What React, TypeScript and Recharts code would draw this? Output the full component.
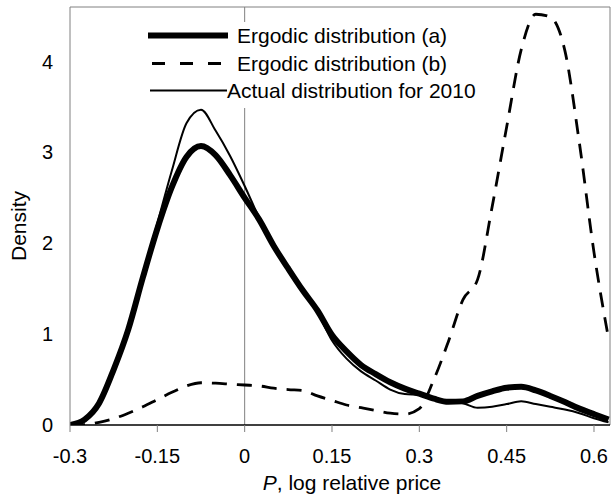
import React from 'react';
import { LineChart, Line, XAxis, YAxis, ReferenceLine, Label } from 'recharts';

// log relative price grid
const priceGrid = [
  -0.3, -0.275, -0.25, -0.225, -0.2, -0.175, -0.15, -0.125, -0.1, -0.075, -0.05, -0.025,
  0, 0.025, 0.05, 0.075, 0.1, 0.125, 0.15, 0.175, 0.2, 0.225, 0.25, 0.275, 0.3, 0.325,
  0.35, 0.375, 0.4, 0.425, 0.45, 0.475, 0.5, 0.525, 0.55, 0.575, 0.6, 0.625,
];

const ergodicA = [
  0, 0.06, 0.24, 0.61, 1.05, 1.62, 2.16, 2.62, 2.95, 3.07, 2.97, 2.75, 2.5, 2.26, 1.97,
  1.72, 1.48, 1.26, 0.99, 0.81, 0.66, 0.56, 0.47, 0.4, 0.345, 0.29, 0.255, 0.26, 0.32,
  0.37, 0.41, 0.42, 0.38, 0.32, 0.253, 0.18, 0.12, 0.06,
];

const ergodicB = [
  0, 0.005, 0.03, 0.07, 0.13, 0.2, 0.28, 0.36, 0.43, 0.465, 0.46, 0.45, 0.44, 0.43, 0.405,
  0.39, 0.38, 0.32, 0.27, 0.22, 0.19, 0.16, 0.13, 0.12, 0.18, 0.5, 0.92, 1.38, 1.6, 2.4,
  3.28, 4.13, 4.52, 4.49, 4.12, 3.1, 1.9, 0.95,
];

const actual2010 = [
  0, 0.06, 0.24, 0.61, 1.05, 1.64, 2.22, 2.8, 3.32, 3.47, 3.24, 2.96, 2.63, 2.28, 1.98,
  1.71, 1.47, 1.24, 0.93, 0.73, 0.59, 0.49, 0.39, 0.34, 0.33, 0.29, 0.26, 0.24, 0.19,
  0.2, 0.23, 0.26, 0.23, 0.2, 0.17, 0.13, 0.075, 0.03,
];

const xTicks = [-0.3, -0.15, 0, 0.15, 0.3, 0.45, 0.6];
const yTicks = [0, 1, 2, 3, 4];

const seriesNames = ['Ergodic distribution (a)', 'Ergodic distribution (b)', 'Actual distribution for 2010'];

const data = priceGrid.map((p, i) => ({
  p,
  a: ergodicA[i],
  b: ergodicB[i],
  actual: actual2010[i],
}));

const FONT = '"Liberation Sans", Arial, sans-serif';
const FRAME = '#808080';

// legend swatches, same order as seriesNames
const swatches = [
  { w: 6, dash: undefined, x1: 3, x2: 83, textX: 92 },
  { w: 2.8, dash: '13 15', x1: 7, x2: 77, textX: 92 },
  { w: 2, dash: undefined, x1: 5, x2: 82, textX: 82 },
];

function ChartLegend() {
  return (
    <div
      style={{
        position: 'absolute',
        left: 145,
        top: 22,
        width: 345,
        paddingBottom: 3,
        background: '#fff',
        fontFamily: FONT,
        fontSize: 21,
        color: '#000',
      }}
    >
      {seriesNames.map((name, i) => {
        const s = swatches[i];
        return (
          <div key={name} style={{ position: 'relative', height: 27.5, whiteSpace: 'nowrap' }}>
            <svg width={90} height={27.5} style={{ position: 'absolute', left: 0, top: 0 }}>
              <line x1={s.x1} x2={s.x2} y1={13.5} y2={13.5} stroke="#000" strokeWidth={s.w} strokeDasharray={s.dash} />
            </svg>
            <span style={{ position: 'absolute', left: s.textX, top: 0, lineHeight: '27.5px' }}>{name}</span>
          </div>
        );
      })}
    </div>
  );
}

export default function App() {
  return (
    <div style={{ position: 'absolute', left: 0, top: 0, width: 611, height: 496, background: '#fff' }}>
      <LineChart width={611} height={496} data={data} margin={{ top: 7, right: 1, bottom: 0, left: 0 }}>
        <XAxis
          dataKey="p"
          type="number"
          domain={[-0.3, 0.6275]}
          ticks={xTicks}
          allowDataOverflow
          height={71}
          axisLine={{ stroke: '#000', strokeWidth: 1.5 }}
          tickLine={{ stroke: FRAME }}
          tickSize={7}
          tickMargin={17}
          tick={{ fill: '#000', fontSize: 20, fontFamily: FONT }}
        >
          <Label
            content={() => (
              <text x={352} y={490} textAnchor="middle" fontSize={21} fontFamily={FONT} fill="#000">
                <tspan fontStyle="italic">P</tspan>
                <tspan>, log relative price</tspan>
              </text>
            )}
          />
        </XAxis>
        <YAxis
          type="number"
          domain={[0, 4.6]}
          ticks={yTicks}
          allowDataOverflow
          width={70}
          axisLine={{ stroke: FRAME }}
          tickLine={false}
          tickSize={6}
          tickMargin={11}
          tick={{ fill: '#000', fontSize: 20, fontFamily: FONT }}
        >
          <Label
            content={() => (
              <text
                x={18}
                y={226}
                transform="rotate(-90 18 226)"
                textAnchor="middle"
                dominantBaseline="central"
                fontSize={21}
                fontFamily={FONT}
                fill="#000"
              >
                Density
              </text>
            )}
          />
        </YAxis>
        <ReferenceLine x={0} stroke={FRAME} strokeWidth={1} />
        <ReferenceLine y={4.6} stroke={FRAME} strokeWidth={1} />
        <ReferenceLine x={0.6275} stroke={FRAME} strokeWidth={1} />
        <Line
          dataKey="a"
          name={seriesNames[0]}
          type="monotone"
          stroke="#000"
          strokeWidth={6}
          dot={false}
          activeDot={false}
          isAnimationActive={false}
        />
        <Line
          dataKey="b"
          name={seriesNames[1]}
          type="monotone"
          stroke="#000"
          strokeWidth={2.8}
          strokeDasharray="15 10"
          dot={false}
          activeDot={false}
          isAnimationActive={false}
        />
        <Line
          dataKey="actual"
          name={seriesNames[2]}
          type="monotone"
          stroke="#000"
          strokeWidth={2}
          dot={false}
          activeDot={false}
          isAnimationActive={false}
        />
      </LineChart>
      <ChartLegend />
    </div>
  );
}
